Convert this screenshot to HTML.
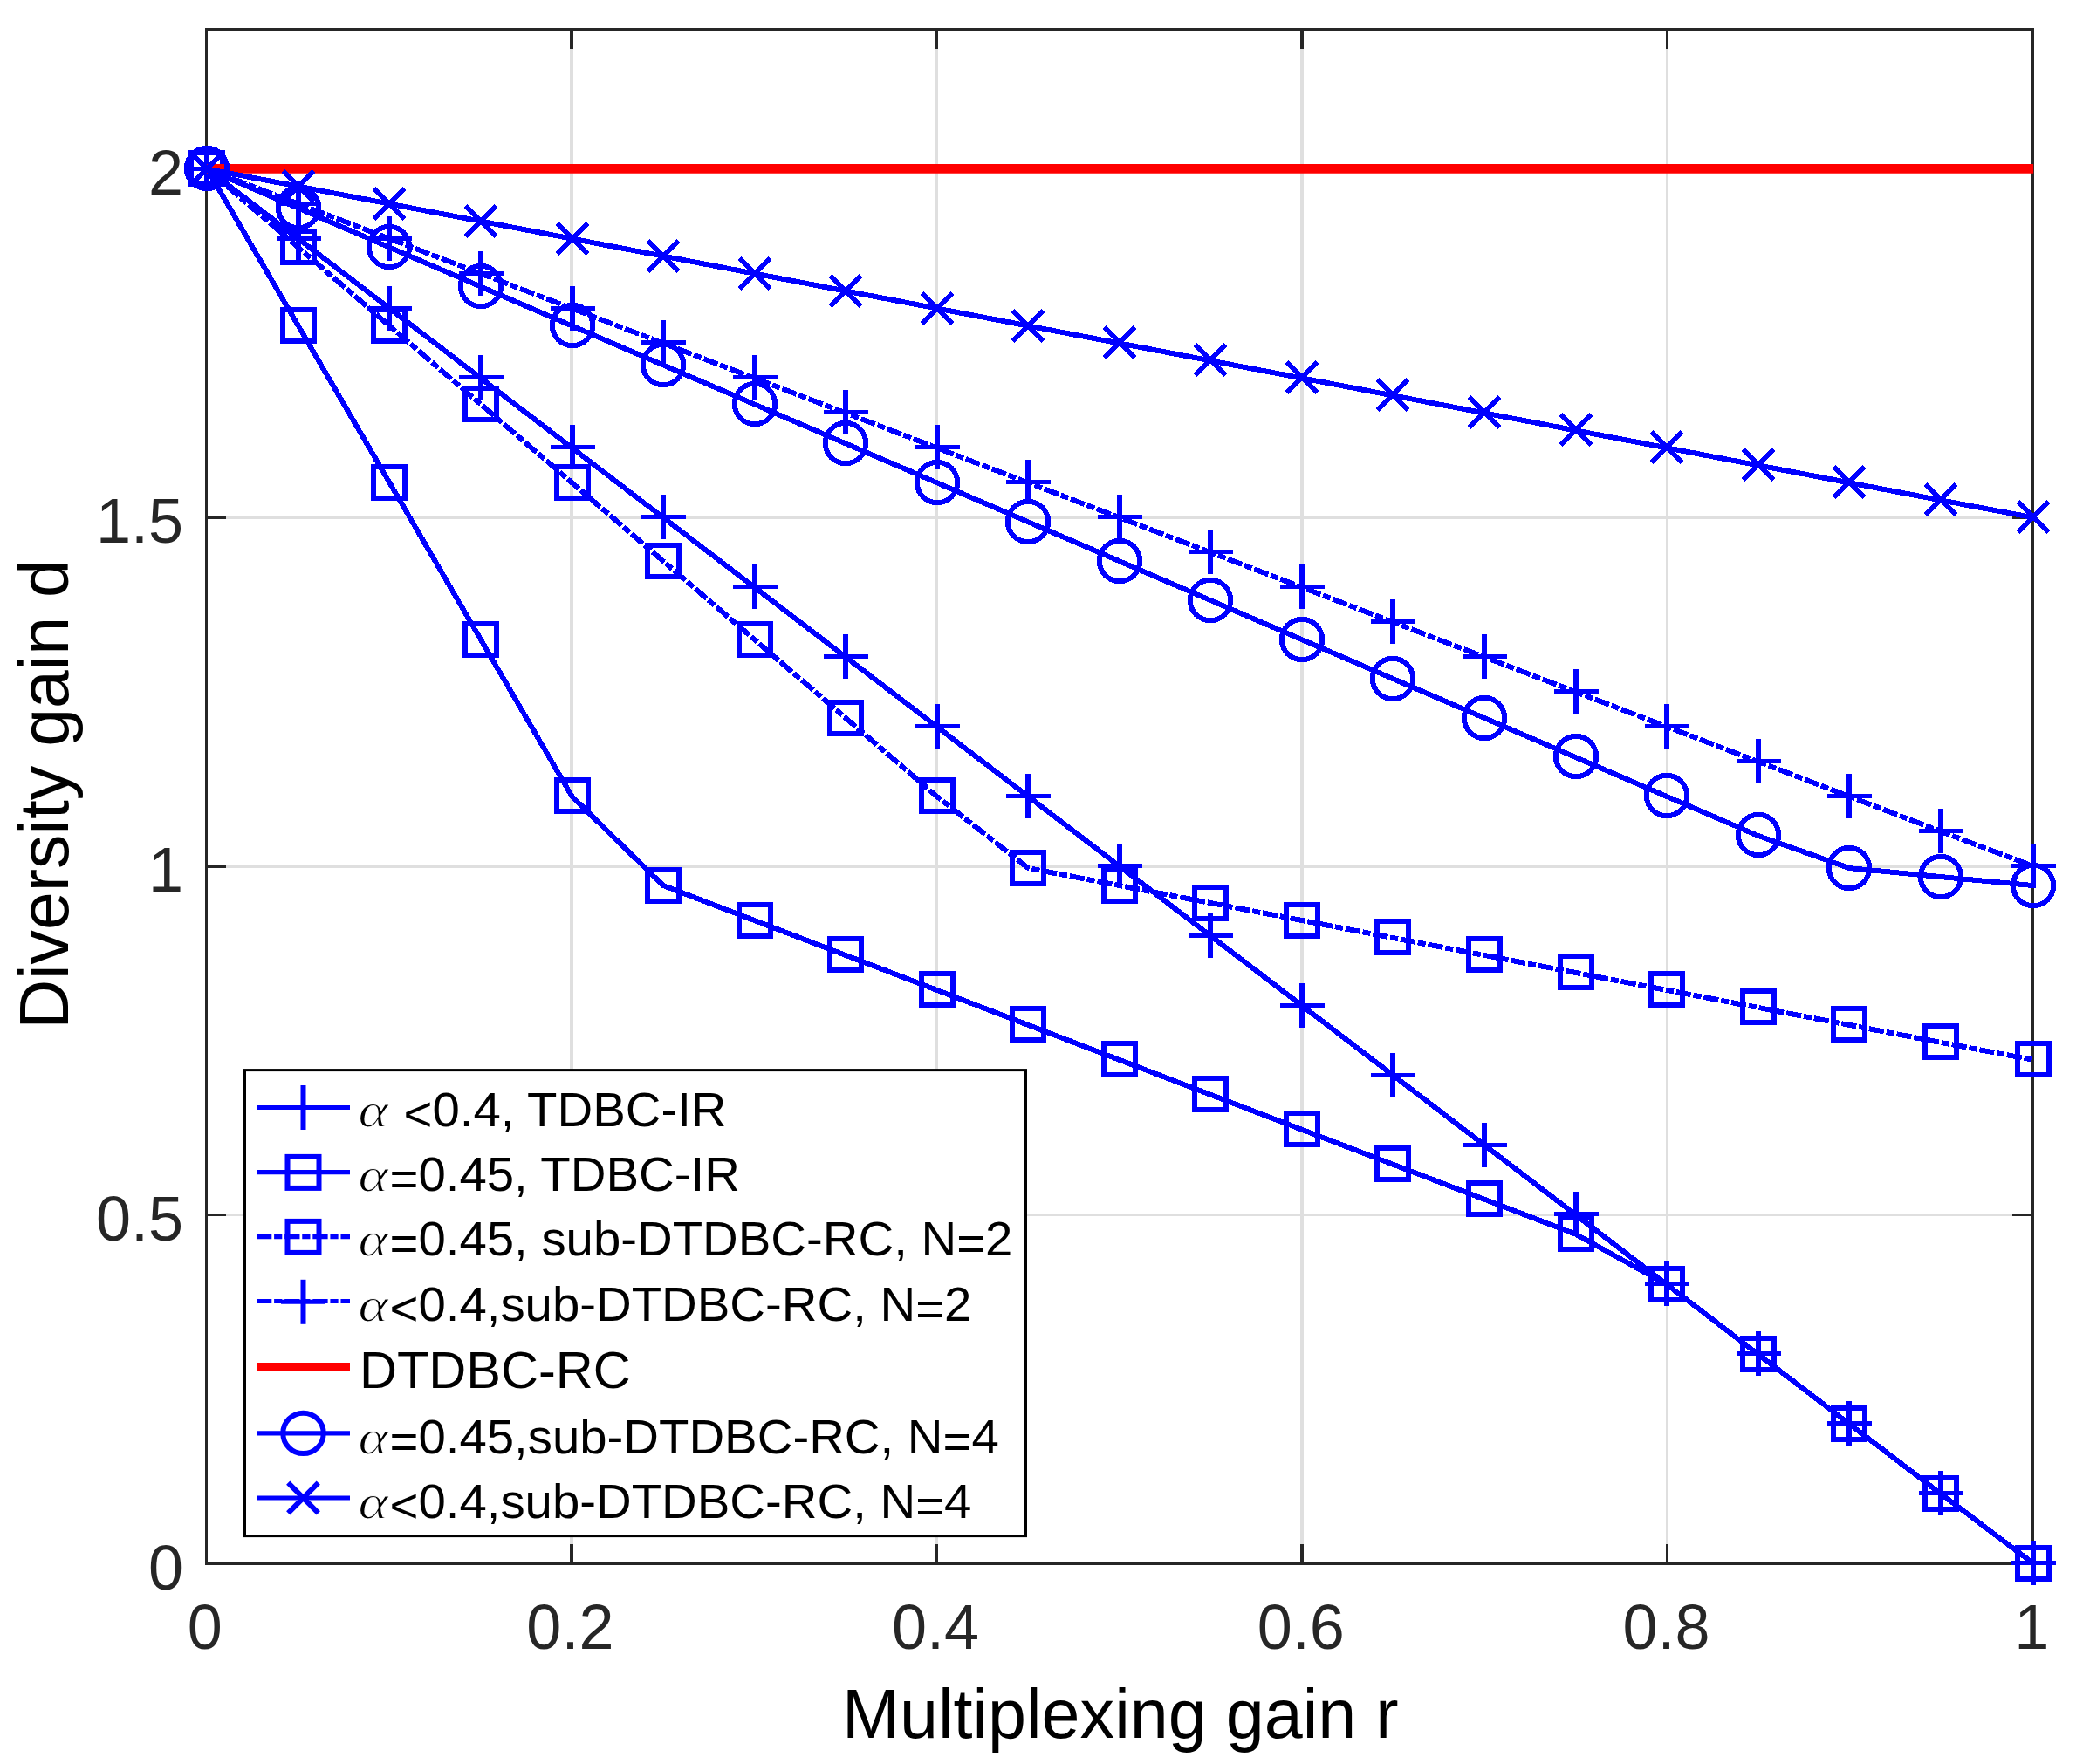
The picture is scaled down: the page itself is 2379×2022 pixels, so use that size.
<!DOCTYPE html>
<html lang="en"><head><meta charset="utf-8"><title>Diversity gain vs multiplexing gain</title>
<style>
html,body{margin:0;padding:0;background:#fff;}
body{width:2379px;height:2022px;overflow:hidden;}
svg{display:block;}
text{font-family:"Liberation Sans",Arial,Helvetica,sans-serif;}
.tick{font-size:72px;fill:#262626;}
.lab{font-size:79.1px;fill:#000;}
.leg{font-size:56.35px;fill:#000;}
.al{font-family:"Liberation Serif","DejaVu Serif",serif;font-style:italic;font-size:55.5px;fill:#000;stroke:#fff;stroke-width:1.1px;paint-order:fill stroke;}
</style></head><body>
<svg width="2379" height="2022" viewBox="0 0 2379 2022">
<rect width="2379" height="2022" fill="#fff"/>
<g fill="#dfdfdf" shape-rendering="crispEdges">
<rect x="653" y="35" width="4" height="1756"/>
<rect x="1072" y="35" width="3" height="1756"/>
<rect x="1490" y="35" width="4" height="1756"/>
<rect x="1909" y="35" width="3" height="1756"/>
<rect x="238" y="192" width="2089" height="3"/>
<rect x="238" y="592" width="2089" height="3"/>
<rect x="238" y="991" width="2089" height="4"/>
<rect x="238" y="1391" width="2089" height="3"/>
</g>
<g fill="#262626" shape-rendering="crispEdges">
<rect x="653" y="35" width="4" height="21"/>
<rect x="653" y="1770" width="4" height="21"/>
<rect x="1072" y="35" width="3" height="21"/>
<rect x="1072" y="1770" width="3" height="21"/>
<rect x="1490" y="35" width="4" height="21"/>
<rect x="1490" y="1770" width="4" height="21"/>
<rect x="1909" y="35" width="3" height="21"/>
<rect x="1909" y="1770" width="3" height="21"/>
<rect x="238" y="192" width="21" height="3"/>
<rect x="2306" y="192" width="21" height="3"/>
<rect x="238" y="592" width="21" height="3"/>
<rect x="2306" y="592" width="21" height="3"/>
<rect x="238" y="991" width="21" height="4"/>
<rect x="2306" y="991" width="21" height="4"/>
<rect x="238" y="1391" width="21" height="3"/>
<rect x="2306" y="1391" width="21" height="3"/>
<rect x="235" y="32" width="3" height="1762"/>
<rect x="2327" y="32" width="4" height="1762"/>
<rect x="235" y="32" width="2096" height="3"/>
<rect x="235" y="1791" width="2096" height="3"/>
</g>
<g stroke="#0000ff" stroke-width="6" fill="none" stroke-linejoin="round" shape-rendering="crispEdges">
<path d="M237.3 193.7L341.85 273.62L446.4 353.53L550.95 433.45L655.5 513.36L760.05 593.28L864.6 673.19L969.15 753.11L1073.7 833.02L1178.25 912.93L1282.8 992.85L1387.35 1072.77L1491.9 1152.68L1596.45 1232.6L1701 1312.51L1805.55 1392.42L1910.1 1472.34L2014.65 1552.26L2119.2 1632.17L2223.75 1712.09L2330 1792"/>
<path d="M211.5 193.5H262.5" stroke-width="5"/><path d="M237 168V219"/>
<path d="M316.5 273.5H367.5" stroke-width="5"/><path d="M342 248V299"/>
<path d="M420.5 353.5H471.5" stroke-width="5"/><path d="M446 328V379"/>
<path d="M525.5 432.5H576.5" stroke-width="5"/><path d="M551 407V458"/>
<path d="M630.5 512.5H681.5" stroke-width="5"/><path d="M656 487V538"/>
<path d="M734.5 592.5H785.5" stroke-width="5"/><path d="M760 567V618"/>
<path d="M839.5 672.5H890.5" stroke-width="5"/><path d="M865 647V698"/>
<path d="M943.5 752.5H994.5" stroke-width="5"/><path d="M969 727V778"/>
<path d="M1048.5 832.5H1099.5" stroke-width="5"/><path d="M1074 807V858"/>
<path d="M1152.5 912.5H1203.5" stroke-width="5"/><path d="M1178 887V938"/>
<path d="M1257.5 992.5H1308.5" stroke-width="5"/><path d="M1283 967V1018"/>
<path d="M1361.5 1072.5H1412.5" stroke-width="5"/><path d="M1387 1047V1098"/>
<path d="M1466.5 1152.5H1517.5" stroke-width="5"/><path d="M1492 1127V1178"/>
<path d="M1570.5 1232.5H1621.5" stroke-width="5"/><path d="M1596 1207V1258"/>
<path d="M1675.5 1312.5H1726.5" stroke-width="5"/><path d="M1701 1287V1338"/>
<path d="M1780.5 1391.5H1831.5" stroke-width="5"/><path d="M1806 1366V1417"/>
<path d="M1884.5 1471.5H1935.5" stroke-width="5"/><path d="M1910 1446V1497"/>
<path d="M1989.5 1551.5H2040.5" stroke-width="5"/><path d="M2015 1526V1577"/>
<path d="M2093.5 1631.5H2144.5" stroke-width="5"/><path d="M2119 1606V1657"/>
<path d="M2198.5 1711.5H2249.5" stroke-width="5"/><path d="M2224 1686V1737"/>
<path d="M2304.5 1791.5H2355.5" stroke-width="5"/><path d="M2330 1766V1817"/>
</g>
<g stroke="#0000ff" stroke-width="6" fill="none" stroke-linejoin="round" shape-rendering="crispEdges">
<path d="M237.3 193.7L341.85 373.51L446.4 553.32L550.95 733.13L655.5 912.93L760.05 1015.05L864.6 1055.01L969.15 1094.96L1073.7 1134.92L1178.25 1174.88L1282.8 1214.84L1387.35 1254.79L1491.9 1294.75L1596.45 1334.71L1701 1374.67L1805.55 1414.62L1910.1 1472.34L2014.65 1552.26L2119.2 1632.17L2223.75 1712.09L2330 1792"/>
<rect x="219" y="175" width="36" height="36" stroke-linejoin="miter"/>
<rect x="324" y="355" width="36" height="36" stroke-linejoin="miter"/>
<rect x="428" y="535" width="36" height="36" stroke-linejoin="miter"/>
<rect x="533" y="715" width="36" height="36" stroke-linejoin="miter"/>
<rect x="638" y="894" width="36" height="36" stroke-linejoin="miter"/>
<rect x="742" y="997" width="36" height="36" stroke-linejoin="miter"/>
<rect x="847" y="1037" width="36" height="36" stroke-linejoin="miter"/>
<rect x="951" y="1076" width="36" height="36" stroke-linejoin="miter"/>
<rect x="1056" y="1116" width="36" height="36" stroke-linejoin="miter"/>
<rect x="1160" y="1156" width="36" height="36" stroke-linejoin="miter"/>
<rect x="1265" y="1196" width="36" height="36" stroke-linejoin="miter"/>
<rect x="1369" y="1236" width="36" height="36" stroke-linejoin="miter"/>
<rect x="1474" y="1276" width="36" height="36" stroke-linejoin="miter"/>
<rect x="1578" y="1316" width="36" height="36" stroke-linejoin="miter"/>
<rect x="1683" y="1356" width="36" height="36" stroke-linejoin="miter"/>
<rect x="1788" y="1396" width="36" height="36" stroke-linejoin="miter"/>
<rect x="1892" y="1454" width="36" height="36" stroke-linejoin="miter"/>
<rect x="1997" y="1534" width="36" height="36" stroke-linejoin="miter"/>
<rect x="2101" y="1614" width="36" height="36" stroke-linejoin="miter"/>
<rect x="2206" y="1694" width="36" height="36" stroke-linejoin="miter"/>
<rect x="2312" y="1774" width="36" height="36" stroke-linejoin="miter"/>
</g>
<g stroke="#0000ff" stroke-width="6" fill="none" stroke-linejoin="round" shape-rendering="crispEdges">
<path d="M237.3 193.7L341.85 283.6L446.4 373.51L550.95 463.41L655.5 553.32L760.05 643.22L864.6 733.13L969.15 823.03L1073.7 912.93L1178.25 995.07L1282.8 1015.05L1387.35 1035.03L1491.9 1055.01L1596.45 1074.98L1701 1094.96L1805.55 1114.94L1910.1 1134.92L2014.65 1154.9L2119.2 1174.88L2223.75 1194.86L2330 1214.84" stroke-dasharray="17.3 2.8 9.2 2.86" stroke-dashoffset="1.9"/>
<rect x="219" y="175" width="36" height="36" stroke-linejoin="miter"/>
<rect x="324" y="265" width="36" height="36" stroke-linejoin="miter"/>
<rect x="428" y="355" width="36" height="36" stroke-linejoin="miter"/>
<rect x="533" y="445" width="36" height="36" stroke-linejoin="miter"/>
<rect x="638" y="535" width="36" height="36" stroke-linejoin="miter"/>
<rect x="742" y="625" width="36" height="36" stroke-linejoin="miter"/>
<rect x="847" y="715" width="36" height="36" stroke-linejoin="miter"/>
<rect x="951" y="805" width="36" height="36" stroke-linejoin="miter"/>
<rect x="1056" y="894" width="36" height="36" stroke-linejoin="miter"/>
<rect x="1160" y="977" width="36" height="36" stroke-linejoin="miter"/>
<rect x="1265" y="997" width="36" height="36" stroke-linejoin="miter"/>
<rect x="1369" y="1017" width="36" height="36" stroke-linejoin="miter"/>
<rect x="1474" y="1037" width="36" height="36" stroke-linejoin="miter"/>
<rect x="1578" y="1056" width="36" height="36" stroke-linejoin="miter"/>
<rect x="1683" y="1076" width="36" height="36" stroke-linejoin="miter"/>
<rect x="1788" y="1096" width="36" height="36" stroke-linejoin="miter"/>
<rect x="1892" y="1116" width="36" height="36" stroke-linejoin="miter"/>
<rect x="1997" y="1136" width="36" height="36" stroke-linejoin="miter"/>
<rect x="2101" y="1156" width="36" height="36" stroke-linejoin="miter"/>
<rect x="2206" y="1176" width="36" height="36" stroke-linejoin="miter"/>
<rect x="2312" y="1196" width="36" height="36" stroke-linejoin="miter"/>
</g>
<g stroke="#0000ff" stroke-width="6" fill="none" stroke-linejoin="round" shape-rendering="crispEdges">
<path d="M237.3 193.7L341.85 233.66L446.4 273.62L550.95 313.57L655.5 353.53L760.05 393.49L864.6 433.45L969.15 473.4L1073.7 513.36L1178.25 553.32L1282.8 593.28L1387.35 633.23L1491.9 673.19L1596.45 713.15L1701 753.11L1805.55 793.06L1910.1 833.02L2014.65 872.98L2119.2 912.93L2223.75 952.89L2330 992.85" stroke-dasharray="17.3 2.8 9.2 2.86" stroke-dashoffset="1.9"/>
<path d="M211.5 193.5H262.5" stroke-width="5"/><path d="M237 168V219"/>
<path d="M316.5 233.5H367.5" stroke-width="5"/><path d="M342 208V259"/>
<path d="M420.5 273.5H471.5" stroke-width="5"/><path d="M446 248V299"/>
<path d="M525.5 313.5H576.5" stroke-width="5"/><path d="M551 288V339"/>
<path d="M630.5 353.5H681.5" stroke-width="5"/><path d="M656 328V379"/>
<path d="M734.5 392.5H785.5" stroke-width="5"/><path d="M760 367V418"/>
<path d="M839.5 432.5H890.5" stroke-width="5"/><path d="M865 407V458"/>
<path d="M943.5 472.5H994.5" stroke-width="5"/><path d="M969 447V498"/>
<path d="M1048.5 512.5H1099.5" stroke-width="5"/><path d="M1074 487V538"/>
<path d="M1152.5 552.5H1203.5" stroke-width="5"/><path d="M1178 527V578"/>
<path d="M1257.5 592.5H1308.5" stroke-width="5"/><path d="M1283 567V618"/>
<path d="M1361.5 632.5H1412.5" stroke-width="5"/><path d="M1387 607V658"/>
<path d="M1466.5 672.5H1517.5" stroke-width="5"/><path d="M1492 647V698"/>
<path d="M1570.5 712.5H1621.5" stroke-width="5"/><path d="M1596 687V738"/>
<path d="M1675.5 752.5H1726.5" stroke-width="5"/><path d="M1701 727V778"/>
<path d="M1780.5 792.5H1831.5" stroke-width="5"/><path d="M1806 767V818"/>
<path d="M1884.5 832.5H1935.5" stroke-width="5"/><path d="M1910 807V858"/>
<path d="M1989.5 872.5H2040.5" stroke-width="5"/><path d="M2015 847V898"/>
<path d="M2093.5 912.5H2144.5" stroke-width="5"/><path d="M2119 887V938"/>
<path d="M2198.5 952.5H2249.5" stroke-width="5"/><path d="M2224 927V978"/>
<path d="M2304.5 992.5H2355.5" stroke-width="5"/><path d="M2330 967V1018"/>
</g>
<path d="M237.3 193.35H2330.2" stroke="#ff0000" stroke-width="10.9" fill="none"/>
<g stroke="#0000ff" stroke-width="6" fill="none" stroke-linejoin="round" shape-rendering="crispEdges">
<path d="M237.3 193.7L341.85 238.65L446.4 283.6L550.95 328.56L655.5 373.51L760.05 418.46L864.6 463.41L969.15 508.37L1073.7 553.32L1178.25 598.27L1282.8 643.22L1387.35 688.17L1491.9 733.13L1596.45 778.08L1701 823.03L1805.55 867.98L1910.1 912.93L2014.65 957.89L2119.2 995.07L2223.75 1005.06L2330 1015.05"/>
<circle cx="237" cy="193" r="23.2"/>
<circle cx="342" cy="238" r="23.2"/>
<circle cx="446" cy="283" r="23.2"/>
<circle cx="551" cy="328" r="23.2"/>
<circle cx="656" cy="373" r="23.2"/>
<circle cx="760" cy="418" r="23.2"/>
<circle cx="865" cy="463" r="23.2"/>
<circle cx="969" cy="508" r="23.2"/>
<circle cx="1074" cy="553" r="23.2"/>
<circle cx="1178" cy="598" r="23.2"/>
<circle cx="1283" cy="643" r="23.2"/>
<circle cx="1387" cy="688" r="23.2"/>
<circle cx="1492" cy="733" r="23.2"/>
<circle cx="1596" cy="778" r="23.2"/>
<circle cx="1701" cy="823" r="23.2"/>
<circle cx="1806" cy="867" r="23.2"/>
<circle cx="1910" cy="912" r="23.2"/>
<circle cx="2015" cy="957" r="23.2"/>
<circle cx="2119" cy="995" r="23.2"/>
<circle cx="2224" cy="1005" r="23.2"/>
<circle cx="2330" cy="1015" r="23.2"/>
</g>
<g stroke="#0000ff" stroke-width="6" fill="none" stroke-linejoin="round" shape-rendering="crispEdges">
<path d="M237.3 193.7L341.85 213.68L446.4 233.66L550.95 253.64L655.5 273.62L760.05 293.59L864.6 313.57L969.15 333.55L1073.7 353.53L1178.25 373.51L1282.8 393.49L1387.35 413.47L1491.9 433.45L1596.45 453.42L1701 473.4L1805.55 493.38L1910.1 513.36L2014.65 533.34L2119.2 553.32L2223.75 573.3L2330 593.28"/>
<path d="M219.7 176.2L254.3 210.8M219.7 210.8L254.3 176.2"/>
<path d="M324.7 196.2L359.3 230.8M324.7 230.8L359.3 196.2"/>
<path d="M428.7 216.2L463.3 250.8M428.7 250.8L463.3 216.2"/>
<path d="M533.7 236.2L568.3 270.8M533.7 270.8L568.3 236.2"/>
<path d="M638.7 256.2L673.3 290.8M638.7 290.8L673.3 256.2"/>
<path d="M742.7 276.2L777.3 310.8M742.7 310.8L777.3 276.2"/>
<path d="M847.7 296.2L882.3 330.8M847.7 330.8L882.3 296.2"/>
<path d="M951.7 316.2L986.3 350.8M951.7 350.8L986.3 316.2"/>
<path d="M1056.7 336.2L1091.3 370.8M1056.7 370.8L1091.3 336.2"/>
<path d="M1160.7 356.2L1195.3 390.8M1160.7 390.8L1195.3 356.2"/>
<path d="M1265.7 375.2L1300.3 409.8M1265.7 409.8L1300.3 375.2"/>
<path d="M1369.7 395.2L1404.3 429.8M1369.7 429.8L1404.3 395.2"/>
<path d="M1474.7 415.2L1509.3 449.8M1474.7 449.8L1509.3 415.2"/>
<path d="M1578.7 435.2L1613.3 469.8M1578.7 469.8L1613.3 435.2"/>
<path d="M1683.7 455.2L1718.3 489.8M1683.7 489.8L1718.3 455.2"/>
<path d="M1788.7 475.2L1823.3 509.8M1788.7 509.8L1823.3 475.2"/>
<path d="M1892.7 495.2L1927.3 529.8M1892.7 529.8L1927.3 495.2"/>
<path d="M1997.7 515.2L2032.3 549.8M1997.7 549.8L2032.3 515.2"/>
<path d="M2101.7 535.2L2136.3 569.8M2101.7 569.8L2136.3 535.2"/>
<path d="M2206.7 555.2L2241.3 589.8M2206.7 589.8L2241.3 555.2"/>
<path d="M2312.7 575.2L2347.3 609.8M2312.7 609.8L2347.3 575.2"/>
</g>
<rect x="280.5" y="1226.6" width="895" height="534" fill="#fff" stroke="#000" stroke-width="3"/>
<g stroke="#0000ff" stroke-width="6" fill="none">
<path d="M294.0 1269.5H401.0" stroke-width="5.2"/>
<path d="M322 1269.5H373" stroke-width="5"/><path d="M347.5 1244V1295"/>
</g>
<text class="al" transform="translate(410.4 1291) scale(1.18 1)">α</text>
<text class="leg" x="462.5" y="1291"><tspan dy="4.5">&lt;</tspan><tspan dy="-4.5">0.4, TDBC-IR</tspan></text>
<g stroke="#0000ff" stroke-width="6" fill="none">
<path d="M294.0 1343.7H401.0" stroke-width="5.2"/>
<rect x="329.5" y="1325.9" width="36" height="36" stroke-linejoin="miter"/>
</g>
<text class="al" transform="translate(410.4 1365) scale(1.18 1)">α</text>
<text class="leg" x="446.5" y="1365"><tspan dy="5">=</tspan><tspan dy="-5">0.45, TDBC-IR</tspan></text>
<g stroke="#0000ff" stroke-width="6" fill="none">
<path d="M294.0 1417.7H401.0" stroke-dasharray="17.3 2.8 9.2 2.86" stroke-width="5.2"/>
<rect x="329.5" y="1399.9" width="36" height="36" stroke-linejoin="miter"/>
</g>
<text class="al" transform="translate(410.4 1439) scale(1.18 1)">α</text>
<text class="leg" x="446.5" y="1439"><tspan dy="5">=</tspan><tspan dy="-5">0.45, sub-DTDBC-RC, N</tspan><tspan dy="5">=</tspan><tspan dy="-5">2</tspan></text>
<g stroke="#0000ff" stroke-width="6" fill="none">
<path d="M294.0 1491.5H401.0" stroke-dasharray="17.3 2.8 9.2 2.86" stroke-width="5.2"/>
<path d="M322 1492.3H373" stroke-width="5"/><path d="M347.5 1466.8V1517.8"/>
</g>
<text class="al" transform="translate(410.4 1514) scale(1.18 1)">α</text>
<text class="leg" x="446.5" y="1514"><tspan dy="4.5">&lt;</tspan><tspan dy="-4.5">0.4,sub-DTDBC-RC, N</tspan><tspan dy="5">=</tspan><tspan dy="-5">2</tspan></text>
<path d="M294.0 1567H401.0" stroke="#ff0000" stroke-width="10" fill="none"/>
<text class="leg" style="font-size:59.5px" x="412.0" y="1590.7">DTDBC-RC</text>
<g stroke="#0000ff" stroke-width="6" fill="none">
<path d="M294.0 1642.9H401.0" stroke-width="5.2"/>
<circle cx="347.5" cy="1642.9" r="23.2"/>
</g>
<text class="al" transform="translate(410.4 1666) scale(1.18 1)">α</text>
<text class="leg" x="446.5" y="1666"><tspan dy="5">=</tspan><tspan dy="-5">0.45,sub-DTDBC-RC, N</tspan><tspan dy="5">=</tspan><tspan dy="-5">4</tspan></text>
<g stroke="#0000ff" stroke-width="6" fill="none">
<path d="M294.0 1717H401.0" stroke-width="5.2"/>
<path d="M330.2 1699.7L364.8 1734.3M330.2 1734.3L364.8 1699.7"/>
</g>
<text class="al" transform="translate(410.4 1740) scale(1.18 1)">α</text>
<text class="leg" x="446.5" y="1740"><tspan dy="4.5">&lt;</tspan><tspan dy="-4.5">0.4,sub-DTDBC-RC, N</tspan><tspan dy="5">=</tspan><tspan dy="-5">4</tspan></text>
<text class="tick" text-anchor="middle" x="234.7" y="1890.1">0</text>
<text class="tick" text-anchor="middle" x="653.4" y="1890.1">0.2</text>
<text class="tick" text-anchor="middle" x="1072.1" y="1890.1">0.4</text>
<text class="tick" text-anchor="middle" x="1490.8" y="1890.1">0.6</text>
<text class="tick" text-anchor="middle" x="1909.5" y="1890.1">0.8</text>
<text class="tick" text-anchor="middle" x="2328.2" y="1890.1">1</text>
<text class="tick" text-anchor="end" x="210" y="1821.5">0</text>
<text class="tick" text-anchor="end" x="210" y="1421.75">0.5</text>
<text class="tick" text-anchor="end" x="210" y="1022">1</text>
<text class="tick" text-anchor="end" x="210" y="622.25">1.5</text>
<text class="tick" text-anchor="end" x="210" y="222.5">2</text>
<text class="lab" text-anchor="middle" x="1283.8" y="1991.8">Multiplexing gain r</text>
<text class="lab" style="font-size:78.8px" text-anchor="middle" transform="translate(77.8 910.5) rotate(-90)">Diversity gain d</text>
</svg>
</body></html>
